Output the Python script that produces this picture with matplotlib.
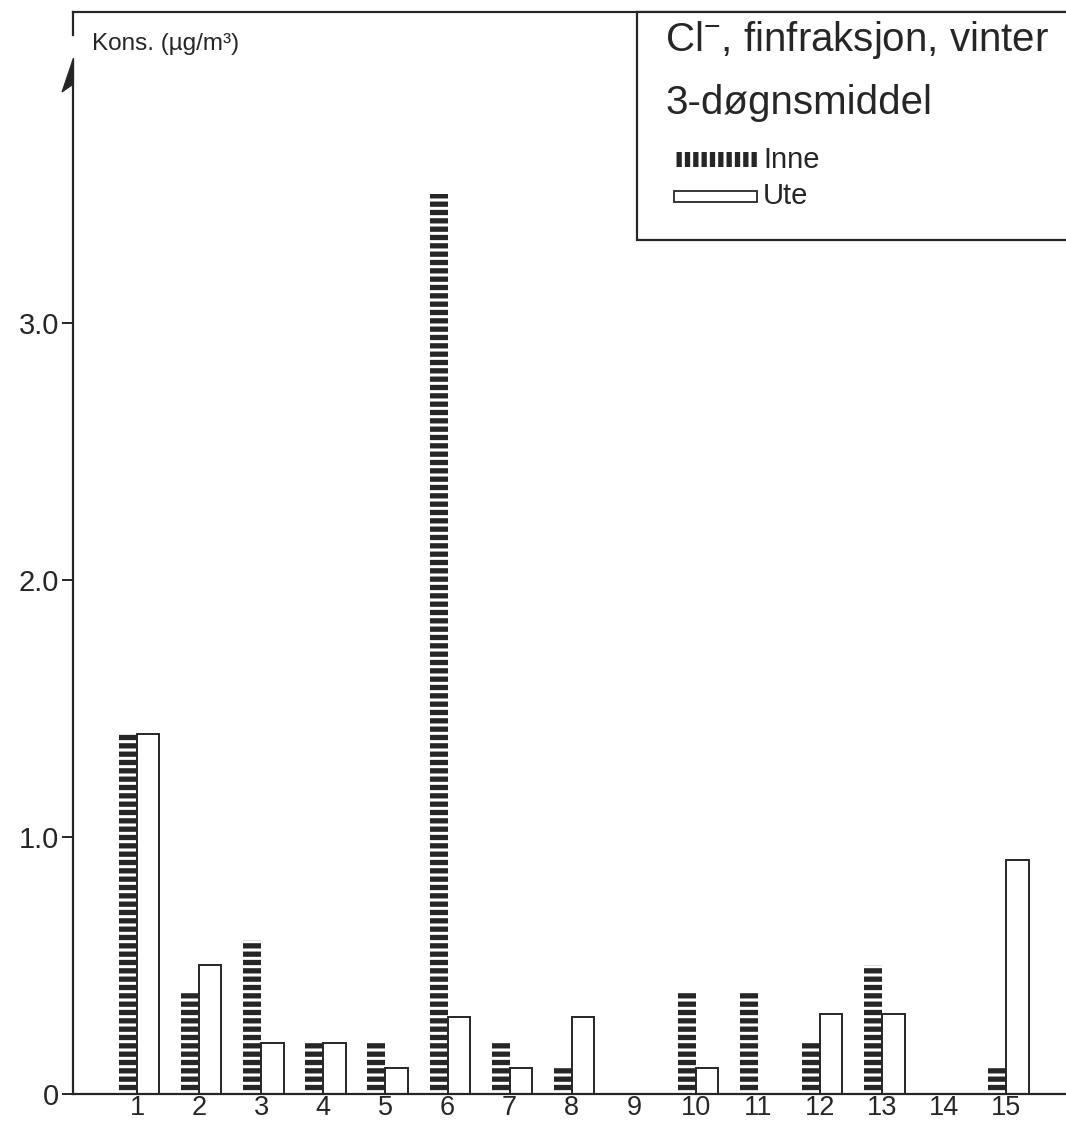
import matplotlib
matplotlib.use("Agg")
from matplotlib import pyplot as plt
from matplotlib.patches import Rectangle, Polygon
from matplotlib.lines import Line2D
import numpy as np

plt.rcParams['font.family'] = ['Liberation Sans', 'DejaVu Sans']
plt.rcParams['mathtext.fontset'] = 'custom'
plt.rcParams['mathtext.rm'] = 'Liberation Sans'
plt.rcParams['hatch.linewidth'] = 3.8

ink = "#262626"

# stasjoner og 3-doegnsmiddel (ug/m3)
stations = list(range(1, 16))
inne = [1.4, 0.4, 0.6, 0.2, 0.2, 3.5, 0.2, 0.1, 0.0, 0.4, 0.4, 0.2, 0.5, 0.0, 0.1]
ute = [1.4, 0.5, 0.2, 0.2, 0.1, 0.3, 0.1, 0.3, 0.0, 0.1, 0.0, 0.31, 0.31, 0.0, 0.91]
yticks = [0, 1, 2, 3]
ylabels = ["0", "1.0", "2.0", "3.0"]

W, H = 1066, 1127
fig = plt.figure(figsize=(W / 100, H / 100), dpi=100)
ax = fig.add_axes([73 / W, 33 / H, 993 / W, 1082 / H])

x = np.array(stations)
# Inne: black dashes, no outline; Ute: open bars
ax.bar(x, inne, width=-0.29, align="edge", facecolor="white",
       edgecolor=ink, linewidth=0, hatch="--")
ute_h = [v if v > 0 else np.nan for v in ute]
ax.bar(x, ute_h, width=0.36, align="edge", facecolor="white",
       edgecolor=ink, linewidth=1.4)

ax.set_xlim(-0.031, -0.031 + 993 / 62.1)
ax.set_ylim(0, 4.21)
ax.set_xticks(stations)
ax.set_xticklabels([str(s) for s in stations])
ax.set_yticks(yticks)
ax.set_yticklabels(ylabels)
ax.tick_params(axis="x", length=0, pad=1, labelsize=19.5, labelcolor=ink)
ax.tick_params(axis="y", length=8, width=1.4, pad=2, labelsize=21,
               labelcolor=ink, color=ink)

for side in ["left", "bottom", "top"]:
    ax.spines[side].set_color(ink)
    ax.spines[side].set_linewidth(1.6)
ax.spines["right"].set_visible(False)
ax.spines["left"].set_bounds(0, 4.02)

# overlay in pixel coordinates for the frame details and legend box
ov = fig.add_axes([0, 0, 1, 1])
ov.set_xlim(0, W)
ov.set_ylim(H, 0)
ov.axis("off")

# top stub of the y-axis and arrow head
ov.add_line(Line2D([73, 73], [12, 35], color=ink, lw=1.6))
ov.add_patch(Polygon([(73.5, 58), (62, 92), (73.5, 84)], closed=True,
                     facecolor=ink, edgecolor=ink, lw=0.8))
ov.text(92, 44, "Kons. (µg/m³)", fontsize=17.5, color=ink, va="center", ha="left")

# legend box
ov.add_patch(Rectangle((637, 12), 440, 228, facecolor="white",
                       edgecolor=ink, lw=1.6, zorder=3))
ov.text(665, 51, "Cl$^{-}$, finfraksjon, vinter", fontsize=29, color=ink,
        va="baseline", ha="left", zorder=4)
ov.text(665, 114, "3-døgnsmiddel", fontsize=29, color=ink,
        va="baseline", ha="left", zorder=4)
ov.add_patch(Rectangle((675, 152), 82, 15, facecolor="white", edgecolor=ink,
                       lw=0, hatch="||", zorder=4))
ov.text(763, 160, "Inne", fontsize=21, color=ink, va="center", ha="left", zorder=4)
ov.add_patch(Rectangle((674, 191), 83, 11, facecolor="white", edgecolor=ink,
                       lw=1.3, zorder=4))
ov.text(763, 196, "Ute", fontsize=21, color=ink, va="center", ha="left", zorder=4)

fig.savefig("out.png", dpi=100, facecolor="white")
